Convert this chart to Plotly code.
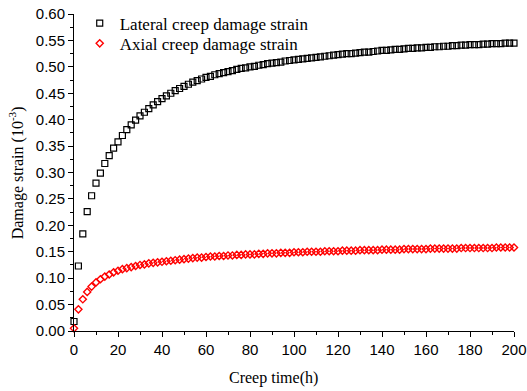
import plotly.graph_objects as go

# Creep time (h), sampled every 2 h
time_h = [
    0, 2, 4, 6, 8, 10, 12, 14, 16, 18,
    20, 22, 24, 26, 28, 30, 32, 34, 36, 38,
    40, 42, 44, 46, 48, 50, 52, 54, 56, 58,
    60, 62, 64, 66, 68, 70, 72, 74, 76, 78,
    80, 82, 84, 86, 88, 90, 92, 94, 96, 98,
    100, 102, 104, 106, 108, 110, 112, 114, 116, 118,
    120, 122, 124, 126, 128, 130, 132, 134, 136, 138,
    140, 142, 144, 146, 148, 150, 152, 154, 156, 158,
    160, 162, 164, 166, 168, 170, 172, 174, 176, 178,
    180, 182, 184, 186, 188, 190, 192, 194, 196, 198,
    200,
]

# Lateral creep damage strain (10^-3)
lateral = [
    0.018, 0.123, 0.184, 0.226, 0.256, 0.280, 0.299, 0.317, 0.332, 0.346,
    0.358, 0.370, 0.381, 0.390, 0.399, 0.407, 0.414, 0.421, 0.428, 0.434,
    0.440, 0.445, 0.450, 0.455, 0.459, 0.463, 0.467, 0.471, 0.474, 0.477,
    0.480, 0.482, 0.485, 0.487, 0.489, 0.491, 0.493, 0.495, 0.497, 0.498,
    0.500, 0.501, 0.503, 0.504, 0.506, 0.507, 0.508, 0.509, 0.511, 0.512,
    0.513, 0.514, 0.515, 0.516, 0.517, 0.518, 0.519, 0.520, 0.521, 0.522,
    0.523, 0.524, 0.525, 0.525, 0.526, 0.527, 0.528, 0.528, 0.529, 0.530,
    0.531, 0.531, 0.532, 0.533, 0.533, 0.534, 0.535, 0.535, 0.536, 0.536,
    0.537, 0.537, 0.538, 0.538, 0.539, 0.539, 0.540, 0.540, 0.541, 0.541,
    0.542, 0.542, 0.542, 0.543, 0.543, 0.544, 0.544, 0.544, 0.545, 0.545,
    0.545,
]

# Axial creep damage strain (10^-3)
axial = [
    0.005, 0.041, 0.060, 0.074, 0.084, 0.092, 0.098, 0.103, 0.107, 0.111,
    0.114, 0.117, 0.119, 0.121, 0.123, 0.125, 0.126, 0.128, 0.129, 0.130,
    0.131, 0.132, 0.133, 0.134, 0.135, 0.136, 0.137, 0.138, 0.139, 0.139,
    0.140, 0.141, 0.141, 0.142, 0.142, 0.143, 0.143, 0.144, 0.144, 0.145,
    0.145, 0.145, 0.146, 0.146, 0.147, 0.147, 0.147, 0.148, 0.148, 0.148,
    0.149, 0.149, 0.149, 0.150, 0.150, 0.150, 0.150, 0.151, 0.151, 0.151,
    0.151, 0.152, 0.152, 0.152, 0.152, 0.153, 0.153, 0.153, 0.153, 0.153,
    0.154, 0.154, 0.154, 0.154, 0.154, 0.155, 0.155, 0.155, 0.155, 0.155,
    0.155, 0.156, 0.156, 0.156, 0.156, 0.156, 0.156, 0.156, 0.157, 0.157,
    0.157, 0.157, 0.157, 0.157, 0.157, 0.157, 0.158, 0.158, 0.158, 0.158,
    0.158,
]

SERIF = "Times New Roman, Liberation Serif, serif"
SANS = "Arial, Liberation Sans, sans-serif"

fig = go.Figure()
fig.add_trace(go.Scatter(
    x=time_h, y=lateral, mode="markers", name="Lateral creep damage strain",
    marker=dict(symbol="square-open", size=6, color="black", line=dict(width=1.2)),
    cliponaxis=False, legend="legend", showlegend=True,
))
fig.add_trace(go.Scatter(
    x=time_h, y=axial, mode="markers", name="Axial creep damage strain",
    marker=dict(symbol="diamond-open", size=5.5, color="red", line=dict(width=1.4)),
    cliponaxis=False, legend="legend2", showlegend=True,
))

axis_common = dict(
    showline=True, linecolor="black", linewidth=1, mirror=False,
    ticks="outside", ticklen=5, tickwidth=1, tickcolor="black",
    showgrid=False, zeroline=False, automargin=False,
    tickfont=dict(family=SANS, size=15, color="black"),
)

fig.update_xaxes(
    range=[0, 200], tick0=0, dtick=20,
    minor=dict(ticks="outside", ticklen=3, dtick=10, tickcolor="black"),
    **axis_common,
)
fig.update_yaxes(
    range=[0, 0.6], tick0=0, dtick=0.05, tickformat=".2f",
    minor=dict(ticks="outside", ticklen=3, dtick=0.025, tickcolor="black"),
    **axis_common,
)

fig.add_annotation(
    text="Creep time(h)", xref="paper", yref="paper", x=0.453, y=-0.148,
    xanchor="center", yanchor="middle", showarrow=False,
    font=dict(family=SERIF, size=16, color="black"),
)
fig.add_annotation(
    text="Damage strain (10<sup>-3</sup>)", xref="paper", yref="paper",
    x=-0.13, y=0.50, textangle=-90, xanchor="center", yanchor="middle",
    showarrow=False, font=dict(family=SERIF, size=16, color="black"),
)

legend_style = dict(
    x=0.013, xanchor="left", yanchor="middle",
    font=dict(family=SERIF, size=17, color="black"),
    bgcolor="rgba(0,0,0,0)", borderwidth=0, itemwidth=30, visible=True,
)

fig.update_layout(
    width=527, height=391,
    margin=dict(l=74, r=13, t=14, b=60, autoexpand=False),
    plot_bgcolor="white", paper_bgcolor="white",
    showlegend=True,
    legend=dict(y=0.970, **legend_style),
    legend2=dict(y=0.906, **legend_style),
)

fig.write_html("out.html")
